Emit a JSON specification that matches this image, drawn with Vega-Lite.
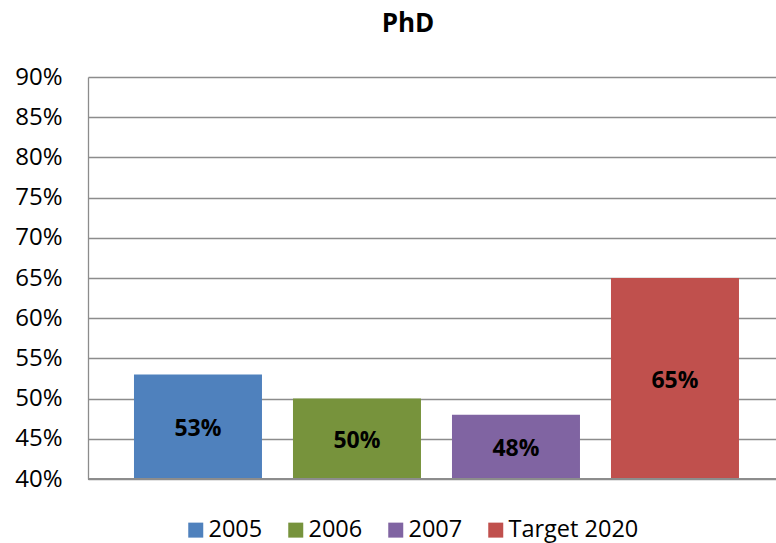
{
  "$schema": "https://vega.github.io/schema/vega-lite/v6.json",
  "width": 688,
  "height": 402,
  "autosize": {"type": "none"},
  "padding": {"left": 88, "top": 77, "right": 0, "bottom": 64},
  "background": "white",
  "title": {"text": "PhD", "fontSize": 26, "font": "Open Sans", "fontWeight": "bold", "color": "#000000", "anchor": "middle", "dx": -24, "offset": 28},
  "data": {"values": [
    {"series": "2005", "value": 0.53},
    {"series": "2006", "value": 0.50},
    {"series": "2007", "value": 0.48},
    {"series": "Target 2020", "value": 0.65}
  ]},
  "transform": [{"calculate": "(datum.value + 0.40) / 2", "as": "mid"}],
  "encoding": {
    "x": {"field": "series", "type": "nominal", "sort": null,
      "scale": {"paddingInner": 0.195, "paddingOuter": 0.261, "align": 0.554},
      "axis": null}
  },
  "layer": [
    {
      "mark": {"type": "bar", "clip": true},
      "encoding": {
        "y": {"field": "value", "type": "quantitative",
          "scale": {"domain": [0.4, 0.9], "zero": false, "nice": false},
          "axis": {"format": "%", "values": [0.4,0.45,0.5,0.55,0.6,0.65,0.7,0.75,0.8,0.85,0.9],
            "title": null, "grid": true, "gridColor": "#8c8c8c", "gridWidth": 1.3,
            "domainColor": "#8c8c8c", "domainWidth": 1.3, "ticks": false,
            "labelFont": "Open Sans", "labelFontSize": 24, "labelColor": "#000000", "labelPadding": 26}},
        "y2": {"datum": 0.4},
        "color": {"field": "series", "type": "nominal", "sort": null,
          "scale": {"range": ["#4F81BD", "#77933C", "#8064A2", "#C0504D"]},
          "legend": {"orient": "none", "direction": "horizontal", "legendX": 96, "legendY": 441,
            "title": null, "symbolType": "square", "symbolSize": 225, "symbolStrokeWidth": 0,
            "labelFont": "Open Sans", "labelFontSize": 23.5, "labelColor": "#000000", "labelOffset": 1,
            "columnPadding": 21, "symbolOpacity": 1}}
      }
    },
    {
      "mark": {"type": "rule", "color": "#8c8c8c", "strokeWidth": 1.3},
      "encoding": {"y": {"datum": 0.4}, "x": {"value": 0}, "x2": {"value": 688}}
    },
    {
      "mark": {"type": "text", "font": "Open Sans", "fontSize": 23, "fontWeight": "bold", "color": "#000000", "baseline": "middle", "dy": 2},
      "encoding": {
        "y": {"field": "mid", "type": "quantitative"},
        "text": {"field": "value", "type": "quantitative", "format": ".0%"}
      }
    }
  ],
  "config": {"view": {"stroke": null}}
}
